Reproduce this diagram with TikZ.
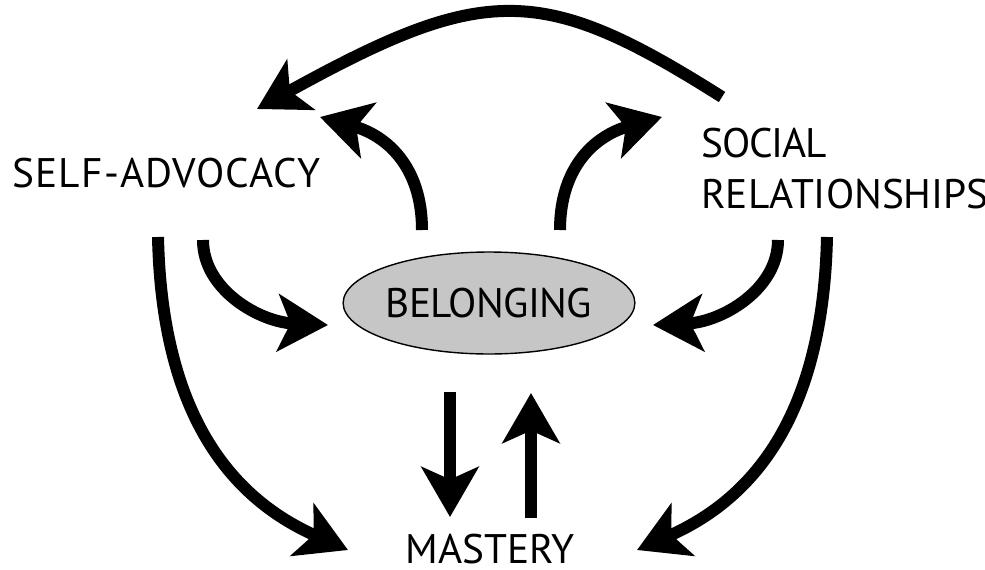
\documentclass[tikz,border=0pt]{standalone}
\usepackage{fontspec}
\setmainfont{PT Sans}
\usetikzlibrary{shapes,arrows.meta}

\begin{document}
\begin{tikzpicture}[x=0.02cm, y=-0.02cm,
    every node/.style={inner sep=0pt, font=\fontsize{23.5}{29}\selectfont},
    flow/.style={line width=0.24cm, -{Stealth[length=1cm, width=1.14cm, inset=0.25cm]}},
    hub/.style={ellipse, draw, line width=0.8pt, fill=gray!45, minimum width=5.6cm, minimum height=2.04cm}]
    \useasboundingbox (0,0) rectangle (985,569);

    \node[anchor=base west] at (12,187) (self) {\addfontfeature{LetterSpace=3}SELF-ADVOCACY};
    \node[anchor=base west, align=left] at (701,208) (social) {\addfontfeature{LetterSpace=-3}SOCIAL\\RELATIONSHIPS};
    \node[hub] at (489,303) (belong) {\addfontfeature{LetterSpace=-1.5}BELONGING};
    \node[anchor=base] at (490,563) (mastery) {MASTERY};

    % arrow ends
    \coordinate (social top) at (722,97);
    \coordinate (self top) at (257,109);
    \coordinate (belong l) at (422,230);
    \coordinate (belong r) at (560,230);
    \coordinate (self in) at (320,117);
    \coordinate (social in) at (662,117);
    \coordinate (self a) at (203,240);
    \coordinate (self b) at (158,237);
    \coordinate (social a) at (778,240);
    \coordinate (social b) at (827,237);
    \coordinate (belong w) at (328,325);
    \coordinate (belong e) at (653,325);
    \coordinate (mastery w) at (348,550);
    \coordinate (mastery e) at (637,550);

    \draw[flow] (social top) .. controls (542,-17) and (485,-17) .. (self top);
    \draw[flow] (belong l) .. controls (422,165) and (385,135) .. (self in);
    \draw[flow] (belong r) .. controls (560,165) and (597,135) .. (social in);
    \draw[flow] (self a) .. controls (203,290) and (260,322) .. (belong w);
    \draw[flow] (social a) .. controls (778,290) and (721,322) .. (belong e);
    \draw[flow] (self b) .. controls (162,420) and (235,500) .. (mastery w);
    \draw[flow] (social b) .. controls (823,420) and (750,500) .. (mastery e);
    %\draw[flow] (belong) -- (mastery);
    \draw[flow] (450,392) -- (450,517);
    \draw[flow] (531,518) -- (531,393);
\end{tikzpicture}
\end{document}
